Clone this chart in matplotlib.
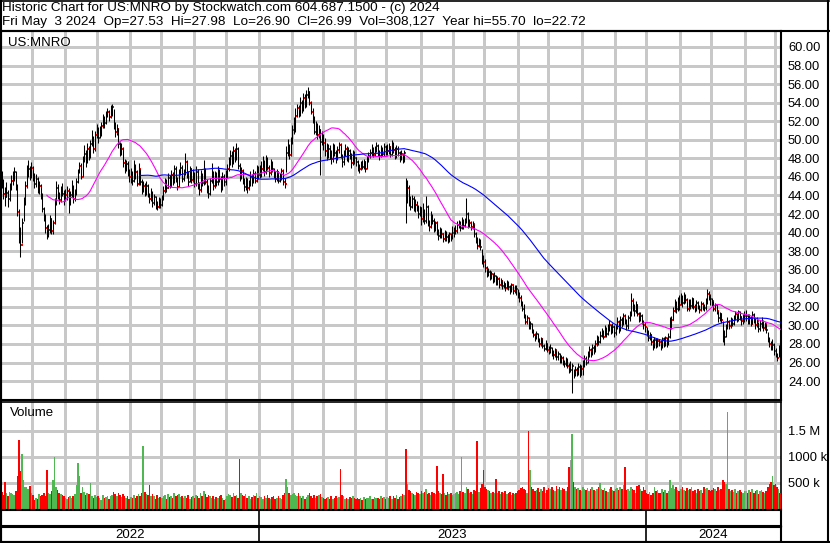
import numpy as np
import pandas as pd
import matplotlib
matplotlib.use("Agg")
import matplotlib.pyplot as plt
from matplotlib.lines import Line2D

# trading days shown per month, May 2022 .. May 2024
days_in_month = [20, 21, 21, 21, 20, 21, 21, 21,
                 21, 20, 21, 20, 22, 21, 20, 22, 19, 22, 21, 20,
                 22, 20, 22, 19, 4]
years = ["2022", "2023", "2024"]
months_per_year = [8, 12, 5]

# daily closes, one line per month
closes = [
    45.5, 44.2, 43.8, 44.3, 43.6, 44.8, 45.6, 45.9, 46.5, 45.0, 42.2, 39.6, 38.7, 41.0, 43.2, 45.0, 46.6, 46.9, 46.1, 47.0,
    46.0, 45.2, 45.8, 44.6, 45.0, 44.0, 42.5, 41.8, 40.5, 39.9, 40.3, 41.5, 40.2, 41.0, 43.2, 44.8, 44.0, 43.5, 44.6, 44.2, 43.8,
    44.0, 44.5, 43.2, 44.0, 44.8, 43.6, 44.2, 45.5, 46.5, 47.2, 46.0, 47.8, 48.5, 47.6, 49.0, 48.2, 49.5, 50.2, 49.0, 50.5, 51.0,
    50.2, 50.6, 51.5, 52.2, 51.8, 52.6, 53.0, 52.4, 53.2, 53.5, 51.5, 50.8, 51.2, 49.5, 48.6, 49.0, 47.5, 46.8, 47.4, 46.5, 46.0,
    46.2, 45.6, 46.8, 46.5, 45.2, 46.8, 45.5, 44.6, 45.0, 44.2, 45.0, 44.0, 43.6, 44.3, 43.2, 43.8, 43.0, 42.8, 43.3, 43.0,
    43.6, 44.5, 45.3, 44.8, 45.9, 45.0, 46.2, 45.4, 46.8, 45.6, 44.9, 46.5, 47.0, 45.8, 46.4, 47.6, 46.2, 45.5, 46.8, 45.7, 46.3,
    45.2, 46.5, 45.0, 44.6, 46.2, 45.3, 46.7, 45.5, 44.8, 44.2, 45.6, 46.4, 45.0, 46.2, 45.4, 46.6, 45.8, 44.9, 46.0, 45.4, 46.2,
    46.8, 47.5, 48.3, 47.6, 48.8, 48.0, 49.0, 47.2, 46.0, 46.6, 45.5, 44.9, 45.6, 44.8, 45.2, 46.0, 45.4, 46.3, 45.6, 46.8, 46.2,
    46.5, 46.9, 47.4, 46.5, 47.8, 47.0, 46.4, 47.5, 46.8, 46.2, 45.8, 46.5, 45.6, 45.9, 46.6, 45.5, 45.2, 48.6, 49.2, 48.4, 49.6,
    51.0, 51.8, 52.6, 53.4, 52.8, 54.0, 53.2, 54.5, 53.6, 54.8, 55.2, 54.0, 53.0, 52.2, 50.8, 51.5, 50.5, 51.0, 49.8, 50.3,
    49.6, 48.8, 48.2, 49.0, 48.5, 47.9, 49.2, 48.6, 48.0, 48.9, 49.4, 48.3, 47.6, 48.5, 49.0, 48.2, 48.8, 48.4, 47.5, 48.6, 48.0,
    47.6, 47.0, 46.8, 47.4, 47.1, 47.6, 46.9, 47.8, 48.2, 48.6, 49.0, 48.4, 48.9, 49.3, 48.6, 48.2, 49.0, 48.5, 49.2, 48.8,
    48.8, 49.2, 48.4, 49.5, 48.9, 48.2, 49.0, 48.6, 48.0, 48.5, 47.9, 48.6, 43.5, 44.8, 43.2, 42.8, 43.6, 42.5, 43.0, 42.7, 42.0, 42.6,
    41.5, 42.2, 41.2, 42.8, 41.0, 40.6, 41.8, 41.2, 40.4, 41.0, 40.0, 39.6, 40.2, 39.8, 39.3, 39.9, 39.5, 39.2, 39.8, 39.4, 40.0,
    40.0, 40.2, 40.8, 41.0, 40.5, 41.3, 40.7, 41.2, 42.0, 40.8, 41.0, 40.6, 40.9, 39.8, 39.2, 38.6, 39.0, 38.4, 37.2, 36.8,
    36.2, 35.6, 35.8, 35.2, 35.5, 34.9, 35.3, 34.6, 35.0, 34.4, 34.8, 34.2, 34.5, 34.0, 34.6, 34.1, 33.8, 34.3, 33.7, 34.0, 33.9, 33.4,
    33.0, 32.4, 31.8, 31.0, 30.4, 30.8, 29.8, 30.2, 29.4, 29.0, 28.6, 29.1, 28.4, 28.0, 28.5, 27.8, 27.5, 28.0, 27.4,
    27.2, 27.6, 27.0, 26.8, 27.3, 26.6, 26.9, 26.2, 26.5, 26.0, 25.8, 26.3, 25.6, 25.2, 25.2, 25.6, 24.6, 25.2, 24.8, 25.5, 24.7, 25.3,
    25.8, 26.4, 26.0, 26.8, 27.3, 26.9, 27.6, 27.2, 28.0, 28.6, 28.2, 28.9, 29.3, 28.8, 29.5, 29.1, 29.6, 30.0, 29.4, 29.8, 29.2,
    29.8, 30.4, 29.6, 30.6, 30.2, 31.0, 30.5, 29.9, 30.8, 31.2, 32.6, 32.0, 31.5, 32.2, 31.2, 30.8, 31.0, 30.4, 30.0, 29.8,
    29.3, 28.6, 29.0, 28.2, 27.8, 28.4, 27.9, 28.3, 28.2, 27.7, 28.5, 28.0, 28.6, 28.1, 28.8, 29.8, 30.6, 31.6, 32.2, 31.8, 32.6, 32.2,
    32.9, 32.4, 33.2, 32.7, 31.8, 32.5, 32.1, 32.8, 32.0, 31.8, 32.4, 32.0, 31.7, 32.3, 32.0, 31.9, 32.5, 33.4, 33.0, 32.8,
    32.6, 31.8, 32.2, 31.5, 30.8, 31.2, 30.6, 29.0, 28.8, 29.8, 30.4, 29.9, 30.6, 30.1, 30.8, 31.2, 30.6, 31.4, 30.9, 30.5, 30.7, 31.0,
    31.0, 30.4, 30.8, 30.2, 31.1, 30.6, 30.0, 30.5, 29.6, 30.2, 30.4, 29.7, 30.1, 29.5, 28.4, 28.0, 27.6, 27.9, 27.2,
    26.8, 26.5, 27.5, 26.99,
]

highs = [
    46.6, 45.8, 44.9, 45.4, 44.6, 45.3, 46.2, 46.6, 47.1, 46.6, 45.2, 42.5, 40.6, 41.6, 43.8, 45.6, 47.3, 47.8, 47.2, 47.6,
    47.2, 46.4, 46.3, 46.0, 45.6, 45.2, 44.3, 42.8, 42.0, 40.8, 40.9, 41.9, 41.6, 41.4, 43.7, 45.6, 45.2, 44.4, 45.0, 45.3, 44.6,
    44.7, 45.0, 44.8, 44.5, 45.7, 45.1, 44.7, 45.9, 46.9, 47.6, 47.5, 48.2, 49.4, 48.9, 49.6, 49.3, 50.0, 51.0, 50.4, 50.9, 51.7,
    51.4, 51.5, 51.9, 52.8, 52.6, 53.1, 53.4, 53.2, 53.7, 53.9, 53.3, 51.9, 51.7, 51.3, 49.8, 49.6, 49.2, 47.9, 47.8, 47.7, 46.9,
    47.0, 46.6, 47.8, 47.4, 46.7, 47.5, 46.9, 45.8, 45.6, 45.3, 45.6, 45.2, 44.3, 44.8, 44.5, 44.2, 43.9, 43.4, 43.8, 43.7,
    44.0, 45.0, 45.9, 45.8, 46.4, 46.2, 46.7, 46.5, 47.3, 47.2, 46.0, 46.9, 47.6, 47.3, 46.9, 48.6, 47.8, 46.6, 47.2, 47.0, 46.8,
    46.5, 47.2, 46.8, 45.4, 46.7, 46.4, 47.8, 47.0, 45.8, 45.1, 45.9, 47.5, 46.6, 46.6, 46.5, 47.2, 46.9, 46.1, 46.5, 46.3, 46.7,
    47.4, 48.1, 48.9, 48.8, 49.3, 49.1, 49.7, 49.2, 47.5, 47.1, 46.9, 45.9, 46.0, 45.9, 45.7, 46.6, 46.3, 46.8, 46.6, 47.3, 47.2,
    47.3, 47.7, 48.2, 47.8, 48.4, 48.1, 47.3, 47.9, 47.7, 47.0, 46.6, 46.9, 46.6, 46.4, 47.0, 46.8, 45.9, 49.3, 50.1, 49.5, 50.3,
    51.6, 52.5, 53.4, 53.9, 53.8, 54.6, 54.3, 55.0, 54.9, 55.4, 55.7, 55.3, 54.2, 53.4, 52.6, 52.0, 51.8, 51.6, 51.2, 50.9,
    50.6, 50.2, 49.6, 49.5, 49.4, 48.9, 49.6, 49.5, 48.9, 49.3, 49.8, 49.6, 48.5, 48.9, 49.5, 49.3, 49.2, 49.0, 48.6, 48.9, 48.8,
    48.1, 47.8, 47.4, 47.7, 47.8, 47.9, 47.7, 48.2, 48.7, 49.0, 49.5, 49.2, 49.3, 49.8, 49.5, 48.9, 49.4, 49.2, 49.6, 49.4,
    49.5, 49.6, 49.3, 50.0, 49.8, 49.2, 49.4, 49.3, 48.8, 48.9, 48.6, 48.9, 45.9, 45.7, 45.1, 43.9, 44.1, 43.9, 43.6, 43.4, 43.0, 42.9,
    42.8, 43.2, 42.5, 43.9, 43.0, 41.4, 42.3, 42.0, 41.6, 41.3, 41.2, 40.4, 40.6, 40.5, 40.0, 40.3, 40.2, 39.8, 40.1, 40.0, 40.7,
    40.6, 40.8, 41.3, 41.4, 41.2, 41.7, 41.5, 41.6, 43.7, 42.2, 41.5, 41.2, 41.3, 40.9, 40.1, 39.5, 39.4, 39.3, 38.2, 37.6,
    37.1, 36.4, 36.2, 36.0, 35.9, 35.6, 35.7, 35.4, 35.3, 35.2, 35.1, 34.9, 34.8, 34.6, 34.9, 34.8, 34.3, 34.6, 34.4, 34.3, 34.3, 33.9,
    33.6, 33.3, 32.6, 32.3, 31.2, 31.1, 30.9, 30.5, 30.3, 29.6, 29.2, 29.4, 29.2, 28.6, 28.8, 28.6, 28.0, 28.4, 28.1,
    27.8, 28.0, 27.7, 27.4, 27.6, 27.3, 27.2, 27.0, 26.8, 26.7, 26.3, 26.6, 26.5, 25.9, 26.2, 26.0, 25.3, 25.6, 25.5, 25.9, 25.8, 25.7,
    26.3, 26.8, 26.7, 27.2, 27.8, 27.6, 28.0, 27.9, 28.4, 29.0, 28.9, 29.4, 29.7, 29.5, 30.0, 29.8, 30.1, 30.6, 30.2, 30.3, 30.0,
    30.2, 30.9, 30.6, 31.0, 30.9, 31.3, 31.2, 30.7, 31.1, 31.6, 33.5, 32.9, 32.3, 32.6, 32.3, 31.4, 31.4, 31.2, 30.6, 30.4,
    29.8, 29.5, 29.3, 29.1, 28.5, 28.7, 28.6, 28.6, 28.5, 28.4, 28.8, 28.7, 28.9, 28.8, 29.2, 30.9, 31.0, 32.0, 32.8, 32.6, 33.1, 33.3,
    33.5, 33.3, 33.6, 33.4, 32.9, 32.8, 32.8, 33.1, 32.9, 32.3, 32.7, 32.6, 32.2, 32.6, 32.5, 32.3, 32.9, 33.9, 33.7, 33.4,
    33.0, 32.6, 32.4, 32.3, 31.6, 31.4, 31.3, 30.5, 29.5, 30.2, 30.9, 30.6, 30.9, 30.8, 31.1, 31.6, 31.3, 31.7, 31.5, 31.0, 31.2, 31.5,
    31.7, 31.2, 31.2, 31.0, 31.6, 31.3, 30.8, 30.9, 30.4, 30.6, 30.9, 30.6, 30.4, 30.2, 29.3, 28.7, 28.3, 28.5, 28.1,
    27.6, 27.0, 27.9, 27.98,
]

lows = [
    44.8, 43.6, 42.9, 43.8, 42.8, 43.4, 44.6, 45.1, 45.6, 44.6, 41.8, 38.9, 37.4, 38.9, 41.2, 43.0, 44.8, 46.0, 45.7, 45.9,
    45.6, 44.8, 44.9, 44.3, 44.2, 43.6, 42.2, 41.2, 40.0, 39.3, 39.5, 40.0, 39.8, 39.9, 40.9, 43.0, 43.6, 43.1, 43.3, 43.9, 43.0,
    43.4, 43.5, 42.1, 43.0, 43.8, 43.2, 43.4, 44.0, 45.3, 46.4, 45.8, 46.0, 47.6, 47.1, 47.5, 47.8, 48.0, 49.3, 48.6, 48.8, 50.2,
    49.6, 50.2, 50.4, 51.3, 51.3, 51.7, 52.4, 52.0, 52.3, 52.6, 51.2, 50.3, 50.5, 49.1, 48.3, 48.4, 47.1, 46.4, 46.6, 46.1, 45.4,
    45.3, 45.1, 45.4, 45.8, 45.0, 45.1, 45.1, 44.2, 44.4, 43.9, 44.1, 43.8, 43.2, 43.4, 42.8, 43.0, 42.5, 42.4, 42.6, 42.6,
    42.9, 43.5, 44.3, 44.4, 44.8, 44.8, 44.9, 45.1, 45.3, 45.4, 44.6, 44.9, 46.2, 45.5, 45.6, 46.2, 45.9, 45.0, 45.4, 45.3, 45.5,
    44.9, 45.0, 44.7, 44.0, 44.4, 45.0, 45.1, 45.2, 44.3, 43.7, 44.0, 45.3, 44.6, 44.8, 45.0, 45.1, 45.4, 44.4, 44.6, 45.0, 45.1,
    45.9, 46.6, 47.3, 47.1, 47.4, 47.6, 47.8, 46.9, 45.6, 45.8, 45.2, 44.5, 44.6, 44.3, 44.6, 45.0, 45.0, 45.3, 45.3, 45.5, 45.8,
    45.9, 46.0, 46.6, 46.1, 46.3, 46.7, 46.0, 46.2, 46.5, 45.9, 45.5, 45.6, 45.3, 45.4, 45.7, 45.1, 44.8, 46.5, 48.2, 47.9, 48.3,
    49.5, 50.6, 50.8, 52.4, 52.5, 52.6, 52.9, 53.1, 53.4, 53.5, 54.5, 53.7, 52.8, 51.8, 50.6, 50.5, 50.1, 50.2, 46.2, 49.4,
    48.9, 48.3, 47.8, 48.0, 47.9, 47.4, 47.6, 48.2, 47.5, 47.8, 48.6, 48.0, 47.1, 47.3, 48.2, 47.7, 47.6, 47.9, 47.0, 47.3, 47.4,
    47.2, 46.6, 46.4, 46.7, 46.8, 46.9, 46.5, 46.9, 47.6, 48.0, 48.3, 48.1, 48.2, 48.7, 48.3, 47.8, 48.1, 48.2, 48.3, 48.4,
    48.4, 48.5, 48.1, 48.2, 48.6, 47.9, 48.0, 48.2, 47.6, 47.8, 47.5, 47.6, 41.0, 43.2, 42.9, 42.4, 42.6, 42.3, 42.2, 42.3, 41.6, 41.8,
    40.8, 41.1, 40.9, 41.0, 40.7, 40.2, 40.5, 40.9, 40.1, 40.2, 39.7, 39.2, 39.4, 39.4, 39.0, 39.1, 39.1, 38.9, 39.0, 39.1, 39.3,
    39.5, 39.8, 40.0, 40.5, 40.2, 40.4, 40.4, 40.6, 41.0, 40.5, 40.6, 40.3, 40.4, 39.5, 38.9, 38.2, 38.4, 38.1, 36.6, 36.3,
    35.7, 35.2, 35.3, 34.9, 35.0, 34.6, 34.7, 34.3, 34.4, 34.0, 34.2, 33.9, 34.0, 33.7, 33.9, 33.8, 33.4, 33.6, 33.4, 33.5, 33.3, 32.9,
    32.5, 32.1, 31.5, 30.8, 30.1, 30.2, 29.6, 29.6, 29.2, 28.7, 28.3, 28.5, 28.2, 27.7, 27.8, 27.6, 27.2, 27.3, 27.1,
    26.9, 27.0, 26.7, 26.4, 26.6, 26.3, 26.3, 26.0, 26.0, 25.7, 25.5, 25.6, 25.4, 24.9, 25.0, 22.72, 24.3, 24.5, 24.5, 24.7, 24.4, 24.6,
    24.6, 25.5, 25.7, 25.9, 26.6, 26.6, 26.8, 26.9, 27.1, 27.8, 27.9, 28.1, 28.7, 28.5, 28.7, 28.8, 29.0, 29.4, 29.1, 29.2, 28.8,
    29.0, 29.6, 29.2, 29.4, 29.8, 30.0, 30.2, 29.5, 29.6, 30.5, 31.0, 31.6, 31.0, 31.3, 31.0, 30.4, 30.5, 30.2, 29.6, 29.3,
    28.9, 28.3, 28.4, 27.9, 27.4, 27.6, 27.6, 27.7, 27.8, 27.3, 27.6, 27.7, 27.8, 27.7, 27.9, 28.6, 29.6, 30.6, 31.4, 31.3, 31.5, 31.7,
    32.2, 32.0, 32.3, 32.4, 31.5, 31.6, 31.8, 31.9, 31.8, 31.4, 31.6, 31.8, 31.3, 31.6, 31.7, 31.5, 31.7, 32.3, 32.7, 32.2,
    32.1, 31.5, 31.6, 31.2, 30.4, 30.5, 30.3, 28.2, 27.9, 28.7, 29.6, 29.6, 29.7, 29.9, 30.0, 30.6, 30.4, 30.5, 30.6, 30.0, 30.2, 30.4,
    30.5, 30.2, 30.1, 29.9, 30.1, 30.3, 29.6, 29.8, 29.3, 29.4, 29.7, 29.4, 29.5, 29.2, 28.2, 27.7, 27.3, 27.4, 26.8,
    26.6, 26.2, 26.6, 26.9,
]

# daily volume in thousands of shares
volumes = [
    320, 260, 510, 300, 250, 330, 310, 290, 270, 340, 640, 1320, 720, 1050, 560, 420, 430, 380, 450, 300,
    260, 180, 220, 200, 280, 240, 260, 300, 250, 740, 300, 280, 340, 560, 1000, 420, 360, 300, 280, 260, 240,
    220, 200, 230, 240, 210, 250, 280, 460, 880, 640, 300, 420, 330, 260, 300, 280, 500, 250, 220, 260, 230,
    240, 220, 180, 260, 210, 230, 250, 200, 240, 260, 320, 280, 240, 300, 260, 230, 280, 250, 220, 240, 200,
    230, 210, 260, 220, 250, 280, 240, 300, 1200, 320, 280, 260, 460, 240, 280, 240, 200, 260, 220, 230,
    220, 240, 260, 200, 280, 230, 250, 210, 300, 240, 260, 280, 230, 250, 210, 240, 220, 260, 200, 230, 250,
    210, 260, 240, 220, 300, 250, 350, 280, 230, 260, 240, 220, 250, 200, 230, 210, 240, 260, 220, 180, 200,
    240, 280, 260, 230, 300, 250, 270, 220, 950, 300, 260, 240, 280, 220, 250, 200, 230, 260, 240, 300, 220,
    250, 230, 200, 240, 220, 260, 210, 190, 230, 250, 200, 220, 240, 210, 200, 260, 300, 580, 420, 300, 260,
    280, 300, 260, 240, 300, 250, 220, 240, 200, 230, 260, 300, 250, 220, 270, 210, 240, 260, 280, 230,
    220, 200, 210, 230, 190, 250, 200, 220, 240, 210, 230, 760, 260, 240, 200, 220, 200, 230, 210, 240, 220,
    200, 220, 190, 210, 180, 230, 200, 220, 210, 240, 200, 190, 230, 210, 220, 200, 240, 210, 230, 200,
    230, 210, 250, 200, 240, 220, 260, 200, 230, 250, 280, 260, 1150, 480, 360, 340, 300, 280, 260, 330, 300, 280,
    340, 300, 320, 380, 280, 300, 260, 320, 300, 290, 830, 340, 300, 280, 680, 300, 260, 320, 280, 300, 260,
    280, 300, 320, 280, 340, 1000, 320, 300, 420, 380, 300, 320, 280, 360, 340, 1300, 320, 400, 480, 740,
    420, 380, 360, 340, 300, 330, 300, 570, 300, 340, 280, 320, 300, 340, 280, 300, 320, 260, 300, 280, 300, 340,
    360, 400, 420, 380, 360, 300, 1500, 750, 420, 380, 340, 360, 400, 320, 380, 340, 420, 300, 360,
    400, 380, 420, 360, 340, 450, 380, 420, 360, 400, 380, 350, 420, 800, 930, 1440, 520, 420, 380, 400, 360, 340,
    420, 380, 360, 400, 350, 380, 420, 360, 340, 380, 420, 500, 380, 360, 400, 340, 320, 380, 420, 360, 340,
    380, 400, 360, 420, 380, 460, 800, 360, 380, 340, 420, 380, 360, 300, 440, 460, 380, 340, 420, 360,
    300, 280, 320, 260, 300, 420, 340, 360, 310, 300, 380, 320, 360, 300, 340, 560, 400, 460, 380, 420, 360, 340,
    380, 420, 360, 340, 400, 360, 380, 420, 340, 360, 300, 380, 340, 360, 300, 420, 380, 400, 360, 340,
    360, 400, 380, 340, 420, 360, 380, 560, 520, 480, 1850, 380, 340, 360, 320, 380, 300, 340, 360, 320, 300, 340,
    340, 300, 360, 320, 380, 300, 340, 360, 280, 340, 360, 320, 300, 340, 420, 480, 520, 640, 460,
    480, 420, 380, 308,
]

price_ticks = np.arange(24, 61, 2)
vol_ticks = [500, 1000, 1500]
vol_tick_labels = ["500 k", "1000 k", "1.5 M"]

header1 = "Historic Chart for US:MNRO by Stockwatch.com 604.687.1500 - (c) 2024"
header2 = ("Fri May  3 2024  Op=27.53  Hi=27.98  Lo=26.90  Cl=26.99  "
           "Vol=308,127  Year hi=55.70  lo=22.72")

plt.rcParams['font.family'] = ['Liberation Sans', 'DejaVu Sans']

W, H = 830, 543
GRID = '#c8c8c8'
GREEN = '#50b850'


def box(x0, y0, x1, y1):
    # pixel box (top-left origin) -> figure rect
    return [x0 / W, 1 - y1 / H, (x1 - x0) / W, (y1 - y0) / H]


def hline(y, x0, x1, lw=1.5):
    fig.add_artist(Line2D([x0 / W, x1 / W], [1 - y / H, 1 - y / H], color='black', lw=lw))


def vline(x, y0, y1, lw=1.5):
    fig.add_artist(Line2D([x / W, x / W], [1 - y0 / H, 1 - y1 / H], color='black', lw=lw))


def draw_grid(a, xs, ys):
    ylo, yhi = a.get_ylim()
    xlo, xhi = a.get_xlim()
    a.vlines(xs, ylo, yhi, color=GRID, lw=0.75, zorder=1, antialiased=False)
    a.hlines(ys, xlo, xhi, color=GRID, lw=0.75, zorder=1, antialiased=False)


df = pd.DataFrame({'close': closes, 'high': highs, 'low': lows, 'volume': volumes})
n = len(df)
x = np.arange(n)
ma30 = df['close'].rolling(30).mean()
ma90 = df['close'].rolling(90).mean()

month_starts = np.cumsum([0] + days_in_month[:-1])
year_starts = month_starts[np.cumsum([0] + months_per_year[:-1])]

chg = df['close'].diff().fillna(-1)
vol_colors = np.where(chg > 0, GREEN, np.where(chg < 0, 'red', '#a0a0a0'))

fig = plt.figure(figsize=(W / 100, H / 100), dpi=100)

# header
fig.text(2 / W, 1 - 8 / H, header1, fontsize=9.7, va='center', ha='left')
fig.text(2 / W, 1 - 22 / H, header2, fontsize=9.7, va='center', ha='left')

# price panel
ax = fig.add_axes(box(1, 31, 781, 400))
ax.set_xlim(-0.5, n - 0.5)
ax.set_ylim(21.96, 61.72)
draw_grid(ax, month_starts[1:] - 0.5, price_ticks)
ax.set_xticks([])
ax.set_yticks(price_ticks)
ax.set_yticklabels([f"{v:.2f}" for v in price_ticks])
ax.tick_params(axis='y', length=0, labelleft=False, labelright=True,
               labelsize=9.3, pad=5)
ax.plot(x + 0.7, df['close'], ls='none', marker='s', ms=1.5, mew=0,
        color='red', zorder=2)
ax.vlines(x, df['low'], df['high'], color='black', lw=0.75, zorder=3)
ax.plot(x, ma30, color='#ff00ff', lw=0.8, zorder=5)
ax.plot(x, ma90, color='#0000ff', lw=0.8, zorder=5)
for s in ax.spines.values():
    s.set_linewidth(1.5)
ax.text(7 / 780, 1 - 12 / 369, "US:MNRO", transform=ax.transAxes, fontsize=9.5,
        va='center', ha='left')

# volume panel
axv = fig.add_axes(box(1, 402, 781, 509))
axv.set_xlim(-0.5, n - 0.5)
axv.set_ylim(0, 2050)
draw_grid(axv, month_starts[1:] - 0.5, vol_ticks)
axv.bar(x, df['volume'], width=1.0, color=vol_colors, lw=0, zorder=3,
        antialiased=False)
axv.set_xticks([])
axv.set_yticks(vol_ticks)
axv.set_yticklabels(vol_tick_labels)
axv.tick_params(axis='y', length=0, labelleft=False, labelright=True,
                labelsize=9.3, pad=5)
for s in axv.spines.values():
    s.set_linewidth(1.2)
axv.text(9 / 780, 1 - 11 / 107, "Volume", transform=axv.transAxes, fontsize=9.5,
         va='center', ha='left')

# date strips
for (y0, y1), labelled in [((510, 526), False), ((527, 542), True)]:
    axs = fig.add_axes(box(1, y0, 781, y1))
    axs.set_xlim(-0.5, n - 0.5)
    axs.set_ylim(0, 1)
    axs.set_xticks([])
    axs.set_yticks([])
    for s in axs.spines.values():
        s.set_linewidth(1.5)
    bounds = list(year_starts - 0.5) + [n - 0.5]
    for b in bounds[1:-1]:
        axs.axvline(b, color='black', lw=1.2)
    if labelled:
        for i, yr in enumerate(years):
            axs.text((bounds[i] + bounds[i + 1]) / 2, 0.45, yr, fontsize=9.5,
                     ha='center', va='center')

# outer frame and header rule
hline(0.5, 0, 829, lw=1.2)
hline(30.5, 0, 829, lw=1.5)
hline(542, 0, 829, lw=1.5)
vline(0.5, 0, 543, lw=1.5)
vline(828, 0, 543, lw=1.5)

fig.savefig("out.png", dpi=100)
